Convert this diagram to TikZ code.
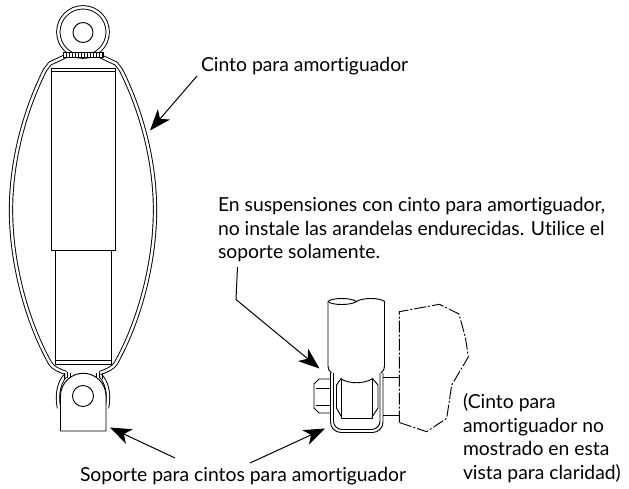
\documentclass[tikz,border=0pt]{standalone}
\usepackage{fontspec}
\setmainfont[Ligatures=NoCommon]{Lato}
\usetikzlibrary{arrows.meta}
\usetikzlibrary{positioning}

\tikzset{
    part/.style={line width=0.7pt, line join=round},
    strap/.style={part, double=white, double distance=1.8pt},
    cutaway/.style={line width=0.7pt, dash pattern=on 9pt off 1.5pt on 1.5pt off 1.5pt},
    leader/.style={line width=0.75pt, -{Stealth[length=16pt,width=12pt,inset=4.5pt]}},
    caption/.style={inner sep=0pt, outer sep=0pt, align=left, anchor=base west,
        font=\fontsize{14.5}{17.6}\selectfont},
}

\begin{document}
\begin{tikzpicture}[x=0.75pt,y=-0.75pt]
            \useasboundingbox (0,0) rectangle (629,489);
            \node[caption] (lbl_cinto)   at (201,71)  {Cinto para amortiguador};
            \node[caption] (lbl_soporte) at (80,481)  {Soporte para cintos para amortiguador};
            \node[caption, anchor=north west] (lbl_nota) at (218,197.5)
                {En suspensiones con cinto para amortiguador,\\no instale las arandelas endurecidas. Utilice el\\soporte solamente.};
            \node[caption, anchor=north west] (lbl_vista) at (463,394)
                {(Cinto para\\amortiguador no\\mostrado en esta\\vista para claridad)};

            % left view, body
            \draw[part] (51,250) -- (51,68) -- (115.5,68) -- (115.5,250) -- cycle;
            \draw[part] (51,71.5) -- (115.5,71.5);
            \draw[part] (55,250) -- (55,364) -- (111,364) -- (111,250);
            \draw[part] (55,360.5) -- (111,360.5);
            % left view, strap
            \draw[strap] (83,32) circle (24.7);
            \draw[strap] (66,56) -- (50,63.5) -- (45,70) .. controls (25,110) and (11,160) .. (11,210)
                .. controls (11,262) and (26,320) .. (50,363) .. controls (53,368) and (58,370) .. (66,373);
            \draw[strap] (100,56) -- (116,63.5) -- (121,70) .. controls (141,110) and (155,160) .. (155,210)
                .. controls (155,262) and (140,320) .. (116,363) .. controls (113,368) and (108,370) .. (100,373);
            \draw[part, fill=white] (63,52) rectangle (103,57);
            \foreach \tickx in {66,69,...,102} {
                \draw[line width=0.5pt] (\tickx,52) -- (\tickx,57);
            }
            \draw[part] (83,32.5) circle (10);
            % left view, bracket
            \draw[strap] (65,376) .. controls (60,382) and (56,392) .. (59,408);
            \draw[strap] (101,376) .. controls (106,382) and (110,392) .. (107,408);
            \draw[part, fill=white] (60.5,431) -- (60.5,396) arc (180:360:22.75) -- (106,431) -- cycle;
            \draw[part] (83,396) circle (10.5);
            \draw[line width=0.5pt] (64,373) -- (64,379) (67,372) -- (67,378) (70,373) -- (70,377);
            \draw[line width=0.5pt] (102,373) -- (102,379) (99,372) -- (99,378) (96,373) -- (96,377);

            % right view, shock end
            \draw[part] (331.5,373) .. controls (329,371) and (328,369) .. (328,366) -- (328,301.5)
                .. controls (332,297.5) and (351,297.5) .. (356.5,301.5)
                .. controls (362,297.5) and (380,297.5) .. (384.5,301.5) -- (384.5,366)
                .. controls (384.5,369) and (383.5,371) .. (381,373);
            \draw[part] (328,301.5) .. controls (332,305.5) and (351,305.5) .. (356.5,301.5);
            \draw[part] (341,379) .. controls (350,384) and (363,384) .. (372,379);
            % right view, bolt head and stub
            \draw[part] (331,379) -- (319,379) -- (314,384) -- (314,408) -- (319,413) -- (331,413);
            \draw[part] (316,388) -- (331,388) (316,405) -- (331,405);
            \draw[part] (383,377) -- (399,377) (383,415) -- (399,415);
            % right view, clamp
            \draw[part] (330.5,373) -- (330.5,422) arc (180:90:10.5) -- (372.5,432.5) arc (90:0:10.5) -- (383,373);
            \draw[part] (333.5,373) -- (333.5,421) arc (180:90:8.5) -- (371.5,429.5) arc (90:0:8.5) -- (380,373);
            % right view, spacer
            \draw[part] (341.5,379) -- (341.5,418) -- (372,418) -- (372,379);
            \draw[part] (341.5,378) -- (336.5,385) -- (336.5,408) -- (341.5,417);
            \draw[part] (372,378) -- (378,385) -- (378,408) -- (372,417);
            % right view, mounting plate
            \draw[cutaway] (399.3,422.5) -- (399.3,311.7) -- (439.3,304.3) -- (459,314) -- (465.5,338)
                -- (468.3,357) -- (451.7,385) -- (446.7,418.3) -- (426.7,431.7) -- cycle;

            % leaders
            \coordinate (cinto_from) at (197,76);
            \coordinate (cinto_tip) at (150,130.5);
            \coordinate (nota_from) at (237.5,267);
            \coordinate (nota_bend) at (236,299.5);
            \coordinate (nota_tip) at (319.5,368.5);
            \coordinate (soporte_from_a) at (175,458);
            \coordinate (soporte_tip_a) at (110,427.5);
            \coordinate (soporte_from_b) at (250,463);
            \coordinate (soporte_tip_b) at (325,428.5);
            \draw[leader] (cinto_from) -- (cinto_tip);
            \draw[leader] (nota_from) -- (nota_bend) -- (nota_tip);
            \draw[leader] (soporte_from_a) -- (soporte_tip_a);
            \draw[leader] (soporte_from_b) -- (soporte_tip_b);
        \end{tikzpicture}
\end{document}
